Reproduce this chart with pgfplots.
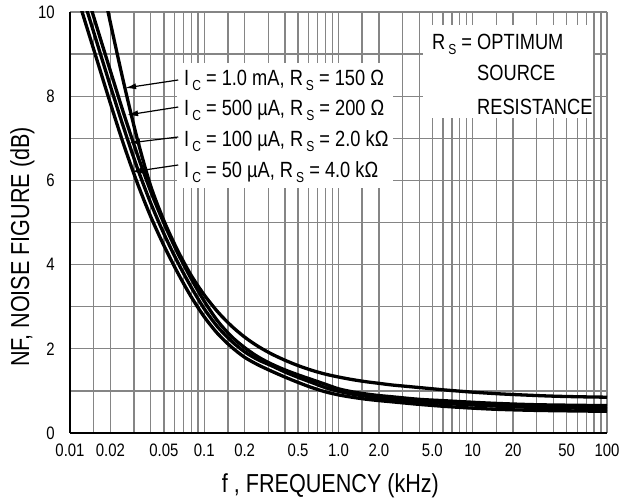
\documentclass[border=0pt]{standalone}
\usepackage{fontspec}
\setmainfont{Liberation Sans}[FakeStretch=0.83]
\usepackage{pgfplots}
\pgfplotsset{compat=1.18}
\usetikzlibrary{arrows.meta}
% subscript as drawn in the datasheet: small, lowered, with a gap before it
\newcommand\sub[1]{\hspace{3pt}\raisebox{-5pt}{\fontsize{14.5}{14.5}\selectfont #1}}
\pgfplotsset{nf/.style={black, line width=3.3pt, smooth, no marks}}

\begin{document}
\begin{tikzpicture}
\begin{axis}[
    scale only axis,
    width=537pt, height=421pt,
    xmode=log,
    xmin=0.01, xmax=100,
    ymin=0, ymax=10,
    axis x line*=bottom, axis y line*=left,
    axis line style={line width=2.5pt},
    xtick={0.01,0.02,0.05,0.1,0.2,0.5,1,2,5,10,20,50,100},
    xticklabels={0.01,0.02,0.05,0.1,0.2,0.5,1.0,2.0,5.0,10,20,50,100},
    minor xtick={0.015,0.03,0.04,0.06,0.07,0.08,0.09,
                 0.15,0.3,0.4,0.6,0.7,0.8,0.9,
                 1.5,3,4,6,7,8,9,
                 15,30,40,60,70,80,90},
    ytick={0,2,4,6,8,10},
    yticklabels={0,2,4,6,8,10},
    minor ytick={1,3,5,7,9},
    grid=both,
    grid style={black!48, line width=1.35pt},
    major tick length=0pt, minor tick length=0pt,
    /pgf/number format/assume math mode=true,
    tick label style={font=\fontsize{18}{18}\selectfont, inner sep=0pt},
    xticklabel style={anchor=north, yshift=-11pt},
    yticklabel style={anchor=east, xshift=-15pt},
    xlabel={f , FREQUENCY (kHz)},
    ylabel={NF, NOISE FIGURE (dB)},
    label style={font=\fontsize{26}{26}\selectfont},
    xlabel style={at={(axis description cs:0.485,-0.126)}, anchor=center},
    ylabel style={at={(axis description cs:-0.0885,0.442)}, anchor=center},
]
% IC = 1.0 mA, RS = 150 ohm
\addplot[nf] coordinates {
    (0.015849,11.26) (0.019953,9.76) (0.025119,8.32) (0.031623,7.0)
    (0.039811,5.88) (0.050119,5.04) (0.063096,4.35) (0.079433,3.76)
    (0.1,3.28) (0.12589,2.88) (0.15849,2.55) (0.19953,2.28)
    (0.25119,2.06) (0.31623,1.88) (0.39811,1.73) (0.50119,1.60)
    (0.63096,1.49) (0.79433,1.40) (1,1.33) (1.2589,1.27)
    (1.5849,1.22) (1.9953,1.18) (2.5119,1.14) (3.1623,1.11)
    (3.9811,1.08) (5.0119,1.05) (6.3096,1.02) (10,0.97)
    (15.849,0.93) (25.119,0.90) (39.811,0.875) (63.096,0.86) (100,0.85)
};
% IC = 500 uA, RS = 200 ohm
\addplot[nf] coordinates {
    (0.012589,10.69) (0.015849,9.64) (0.019953,8.61) (0.025119,7.59)
    (0.031623,6.63) (0.039811,5.75) (0.050119,4.98) (0.063096,4.29)
    (0.079433,3.68) (0.1,3.13) (0.12589,2.66) (0.15849,2.30)
    (0.19953,2.03) (0.25119,1.81) (0.31623,1.64) (0.39811,1.50)
    (0.50119,1.38) (0.63096,1.27) (0.79433,1.16) (1,1.05)
    (1.2589,0.98) (1.5849,0.93) (1.9953,0.89) (2.5119,0.86)
    (3.9811,0.80) (6.3096,0.765) (10,0.73) (15.849,0.70)
    (31.623,0.67) (100,0.65)
};
% IC = 100 uA, RS = 2.0 kohm
\addplot[nf] coordinates {
    (0.012589,10.31) (0.015849,9.28) (0.019953,8.25) (0.025119,7.25)
    (0.031623,6.31) (0.039811,5.47) (0.050119,4.73) (0.063096,4.07)
    (0.079433,3.48) (0.1,2.95) (0.12589,2.52) (0.15849,2.19)
    (0.19953,1.93) (0.25119,1.74) (0.31623,1.60) (0.39811,1.45)
    (0.50119,1.32) (0.63096,1.20) (0.79433,1.08) (1,0.99)
    (1.2589,0.925) (1.5849,0.875) (1.9953,0.83) (2.5119,0.795)
    (3.9811,0.74) (6.3096,0.70) (10,0.665) (15.849,0.635)
    (31.623,0.605) (100,0.58)
};
% IC = 50 uA, RS = 4.0 kohm
\addplot[nf] coordinates {
    (0.01,10.95) (0.012589,9.9) (0.015849,8.87) (0.019953,7.84)
    (0.025119,6.85) (0.031623,5.95) (0.039811,5.15) (0.050119,4.45)
    (0.063096,3.82) (0.079433,3.25) (0.1,2.76) (0.12589,2.36)
    (0.15849,2.05) (0.19953,1.80) (0.25119,1.62) (0.31623,1.47)
    (0.39811,1.33) (0.50119,1.20) (0.63096,1.08) (0.79433,0.98)
    (1,0.905) (1.2589,0.85) (1.5849,0.805) (1.9953,0.77)
    (2.5119,0.74) (3.9811,0.68) (6.3096,0.63) (10,0.59)
    (15.849,0.56) (31.623,0.535) (100,0.515)
};
% white label areas over the grid
\fill[white] (rel axis cs:0.1993,0.5819) rectangle (rel axis cs:0.6015,0.8789);
\fill[white] (rel axis cs:0.6574,0.7482) rectangle (rel axis cs:0.9739,0.9691);
% pointers
\draw[line width=1.2pt, -{Latex[length=11pt,width=6pt]}] (axis cs:0.0640,8.385) -- (axis cs:0.02573,8.195);
\draw[line width=1.2pt, -{Latex[length=11pt,width=6pt]}] (axis cs:0.0640,7.743) -- (axis cs:0.02663,7.553);
\draw[line width=1.2pt, -{Latex[length=11pt,width=6pt]}] (axis cs:0.0640,7.031) -- (axis cs:0.02756,6.888);
\draw[line width=1.2pt, -{Latex[length=11pt,width=6pt]}] (axis cs:0.0640,6.366) -- (axis cs:0.02853,6.200);
\end{axis}

\begin{scope}[every node/.style={anchor=base west, inner sep=0pt, font=\fontsize{22}{22}\selectfont}]
\node at (114pt,347pt) {I\sub{C} = 1.0 mA, R\sub{S} = 150 Ω};
\node at (114pt,317pt) {I\sub{C} = 500 µA, R\sub{S} = 200 Ω};
\node at (114pt,286pt) {I\sub{C} = 100 µA, R\sub{S} = 2.0 kΩ};
\node at (114pt,255pt) {I\sub{C} = 50 µA, R\sub{S} = 4.0 kΩ};
\node at (362pt,383pt) {R\sub{S} = OPTIMUM};
\node at (407pt,352pt) {SOURCE};
\node at (407pt,318pt) {RESISTANCE};
\end{scope}

\pgfresetboundingbox
\path (-70pt,-69pt) rectangle (551pt,433pt);
\end{tikzpicture}
\end{document}
